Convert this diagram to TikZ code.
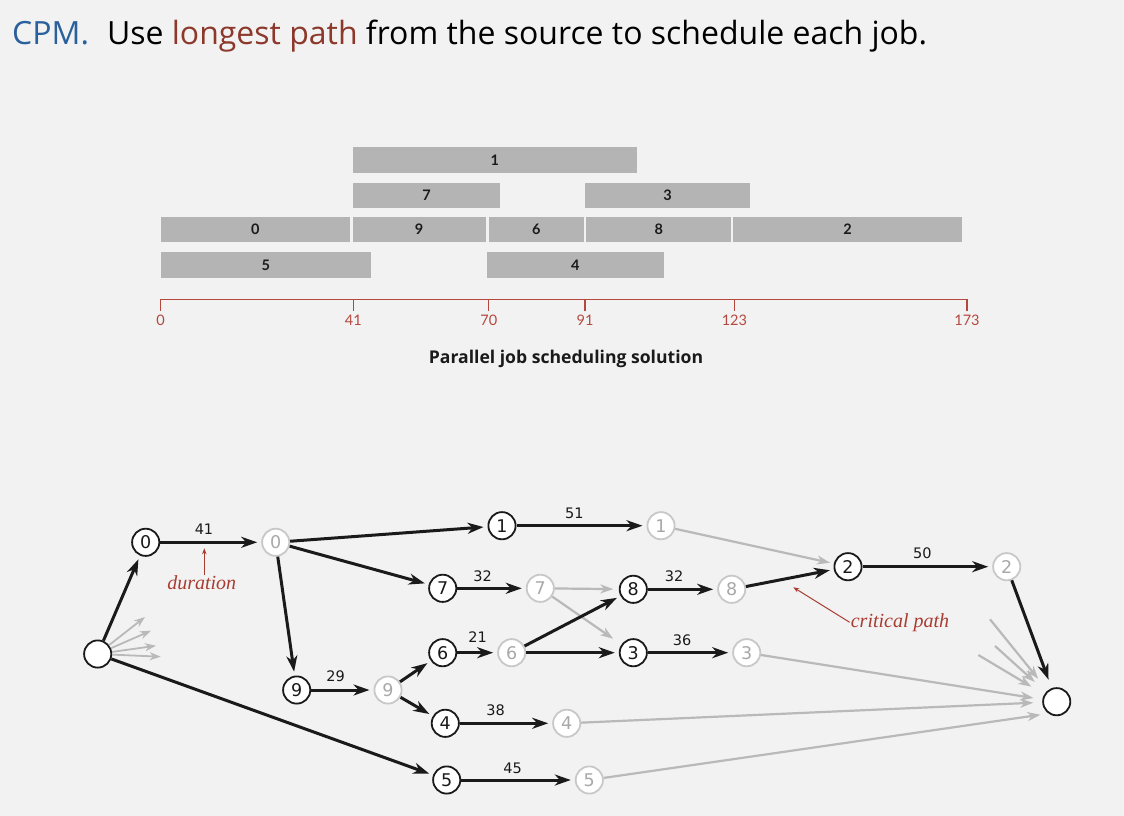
\documentclass[tikz,border=0pt]{standalone}
\usepackage{fontspec}
\usetikzlibrary{arrows.meta,calc}

\newfontfamily\titlefont{Open Sans}
\newfontfamily\chartfont{Lato}
\newfontfamily\captionfont{Open Sans}
\newfontfamily\graphfont{DejaVu Sans}
\newfontfamily\notefont{Liberation Serif}

\definecolor{pagebg}{RGB}{242,242,242}
\definecolor{barfill}{RGB}{180,180,180}
\definecolor{axisred}{RGB}{180,72,62}
\definecolor{titleblue}{RGB}{42,96,156}
\definecolor{titlered}{RGB}{140,56,42}
\definecolor{annored}{RGB}{168,60,50}
\definecolor{edgegray}{RGB}{185,185,185}
\definecolor{nodegray}{RGB}{200,200,200}
\definecolor{textgray}{RGB}{168,168,168}
\definecolor{ink}{RGB}{26,26,26}

% one bar of the schedule: x1, x2, y1, y2, label, node name
\newcommand{\jobbar}[6]{%
  \fill[barfill] (#1,#3) rectangle (#2,#4);
  \node[barlabel] (#6) at ({(#1+#2)/2},{(#3+#4)/2}) {#5};}

\tikzset{
  barlabel/.style={inner sep=0pt, text=ink, font=\chartfont\bfseries\fontsize{14.5}{14.5}\selectfont},
  axisline/.style={draw=axisred, line width=1.3pt},
  ticklabel/.style={anchor=base, inner sep=0pt, text=axisred, font=\chartfont\fontsize{14.5}{14.5}\selectfont},
  startnode/.style={circle, draw=ink, line width=1.8pt, fill=white, minimum size=27.2pt, inner sep=0pt,
    text=ink, font=\graphfont\fontsize{17.5}{17.5}\selectfont},
  finishnode/.style={startnode, draw=nodegray, text=textgray},
  heavy/.style={draw=ink, line width=3pt, -{Stealth[length=16pt,width=11pt,inset=5pt]}, shorten >=4pt},
  light/.style={draw=edgegray, line width=2.2pt, -{Stealth[length=13pt,width=9pt,inset=4pt]}, shorten >=4pt},
  fan/.style={draw=edgegray, line width=1.8pt, -{Stealth[length=11pt,width=8pt,inset=3.5pt]}},
  weight/.style={inner sep=0pt, text=ink, font=\graphfont\fontsize{14.5}{14.5}\selectfont},
  note/.style={inner sep=1pt, text=annored, font=\notefont\itshape\fontsize{20}{20}\selectfont},
  notearrow/.style={draw=annored, line width=1pt, -{Stealth[length=6pt,width=4.5pt]}}
}

\begin{document}
\begin{tikzpicture}[x=1pt,y=-1pt]
\fill[pagebg] (0,0) rectangle (1124,816);
\useasboundingbox (0,0) rectangle (1124,816);

% heading
\node[anchor=base west, inner sep=0pt, text=black, font=\titlefont\fontsize{32}{32}\selectfont] (title) at (12,44.3)
  {\textcolor{titleblue}{CPM.}\hspace{18pt}Use \textcolor{titlered}{longest path} from the source to schedule each job.};

% schedule bars
\jobbar{352.7}{637}{147.3}{173.3}{1}{bar1}
\jobbar{352.7}{500.4}{182.5}{208}{7}{bar7}
\jobbar{585}{750.3}{182.5}{208}{3}{bar3}
\jobbar{160.6}{350}{217}{242.3}{0}{bar0}
\jobbar{352.7}{485.6}{217}{242.3}{9}{bar9}
\jobbar{488.8}{583.6}{217}{242.3}{6}{bar6}
\jobbar{586.2}{731.3}{217}{242.3}{8}{bar8}
\jobbar{733.4}{961.5}{217}{242.3}{2}{bar2}
\jobbar{160.6}{371.3}{252}{277.7}{5}{bar5}
\jobbar{487.2}{663.5}{252}{277.7}{4}{bar4}

% time axis
\draw[axisline] (160.6,299.3) -- (967,299.3);
\foreach \x/\t in {160.6/0, 353.3/41, 488.8/70, 585.1/91, 734.4/123, 967/173} {
  \draw[axisline] (\x,299.3) -- (\x,310.5);
  \node[ticklabel] (tick\t) at (\x,325.7) {\t};
}
\node[anchor=base, inner sep=0pt, text=ink, font=\captionfont\bfseries\fontsize{17.6}{17.6}\selectfont] (caption)
  at (566,363.5) {Parallel job scheduling solution};

% precedence graph: job start / finish vertices
\node[startnode] (s) at (97.7,654) {};
\node[startnode] (t) at (1056.7,701.7) {};

\node[startnode]  (j0) at (145.7,542.3) {0};
\node[finishnode] (e0) at (275.7,542.3) {0};
\node[startnode]  (j1) at (502,525.7) {1};
\node[finishnode] (e1) at (661,525.7) {1};
\node[startnode]  (j7) at (442.7,588.3) {7};
\node[finishnode] (e7) at (540.3,588.3) {7};
\node[startnode]  (j8) at (633.3,589.3) {8};
\node[finishnode] (e8) at (731.7,589.3) {8};
\node[startnode]  (j2) at (848,566.7) {2};
\node[finishnode] (e2) at (1006.7,566.7) {2};
\node[startnode]  (j6) at (442.7,652.7) {6};
\node[finishnode] (e6) at (511.7,652.7) {6};
\node[startnode]  (j3) at (633.3,652.7) {3};
\node[finishnode] (e3) at (746.7,652.7) {3};
\node[startnode]  (j9) at (296.7,690) {9};
\node[finishnode] (e9) at (388,690) {9};
\node[startnode]  (j4) at (445.3,723.3) {4};
\node[finishnode] (e4) at (566.7,723.3) {4};
\node[startnode]  (j5) at (446.7,780) {5};
\node[finishnode] (e5) at (589.3,780) {5};

% free ends of the short fans at source and sink
\coordinate (f1) at (145,617);
\coordinate (f2) at (151,630.7);
\coordinate (f3) at (156,645.7);
\coordinate (f4) at (160.7,656.7);
\coordinate (g1) at (990,619.3);
\coordinate (g2) at (995,646);
\coordinate (g3) at (978.3,655);

% non-critical constraints
\draw[fan] (s) -- (f1);
\draw[fan] (s) -- (f2);
\draw[fan] (s) -- (f3);
\draw[fan] (s) -- (f4);
\draw[light] (e1) -- (j2);
\draw[light, shorten >=5.5pt] (e7) -- (j8);
\draw[light, shorten >=10pt] (e7) -- (j3);
\draw[light, shorten >=9pt] (e3) -- (t);
\draw[light, shorten >=9pt] (e4) -- (t);
\draw[light, shorten >=8pt] (e5) -- (t.235);
\draw[light, shorten >=15pt] (g1) -- (t);
\draw[light, shorten >=15pt] (g2) -- (t);
\draw[light, shorten >=15pt] (g3) -- (t);

% job edges and precedence edges
\draw[heavy] (s) -- (j0);
\draw[heavy] (s) -- (j5);
\draw[heavy] (j0) -- (e0);
\draw[heavy] (e0) -- (j1);
\draw[heavy] (e0) -- (j7);
\draw[heavy] (e0) -- (j9);
\draw[heavy] (j1) -- (e1);
\draw[heavy] (j7) -- (e7);
\draw[heavy] (j9) -- (e9);
\draw[heavy] (e9) -- (j6);
\draw[heavy] (e9) -- (j4);
\draw[heavy] (j6) -- (e6);
\draw[heavy] (e6) -- (j8);
\draw[heavy] (e6) -- (j3);
\draw[heavy] (j8) -- (e8);
\draw[heavy] (e8) -- (j2);
\draw[heavy] (j3) -- (e3);
\draw[heavy] (j4) -- (e4);
\draw[heavy] (j5) -- (e5);
\draw[heavy] (j2) -- (e2);
\draw[heavy, shorten >=9pt] (e2) -- (t);

% durations
\node[weight] (w0) at (204,529) {41};
\node[weight] (w1) at (574.3,513.3) {51};
\node[weight] (w7) at (482.7,576) {32};
\node[weight] (w8) at (674,576.7) {32};
\node[weight] (w6) at (477.7,636.7) {21};
\node[weight] (w3) at (682,640.7) {36};
\node[weight] (w9) at (335.7,676.7) {29};
\node[weight] (w4) at (495.7,710.7) {38};
\node[weight] (w5) at (512.7,768.3) {45};
\node[weight] (w2) at (922.3,553.3) {50};

% annotations
\node[note] (dur) at (201.7,582.8) {duration};
\coordinate (durtip) at (204.3,548.3);
\draw[notearrow] (dur.north -| durtip) -- (durtip);
\node[note] (crit) at (900,622.3) {critical path};
\coordinate (crittip) at (793.3,587.3);
\draw[notearrow] (crit.west) -- (crittip);
\end{tikzpicture}
\end{document}
